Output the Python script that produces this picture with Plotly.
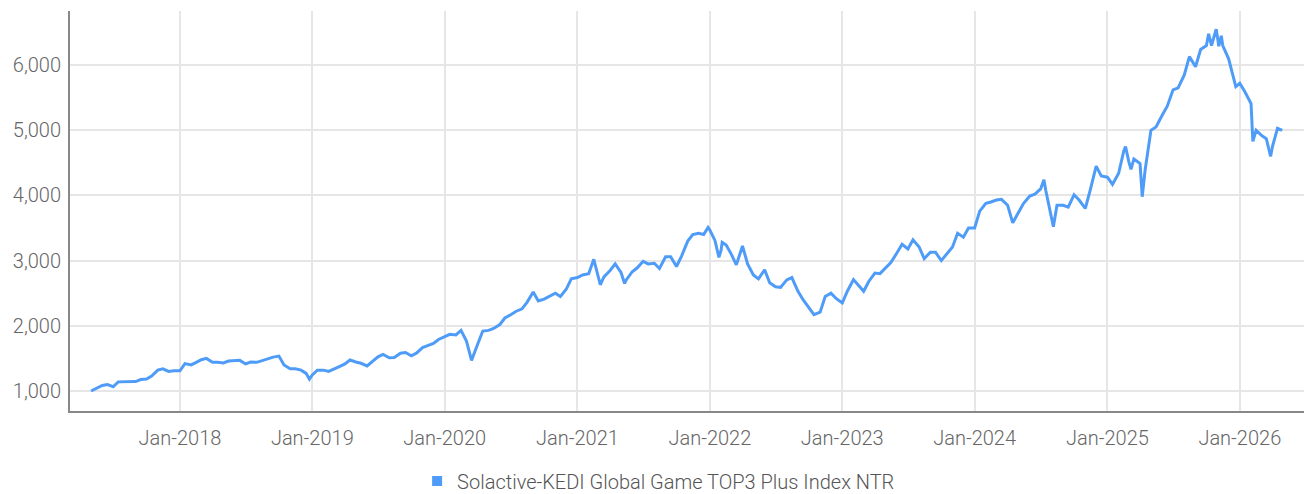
import pandas as pd
import plotly.graph_objects as go

# Semi-monthly readings (1st and 15th of each month), May 2017 .. Apr 2026
v2017 = [1000, 1040, 1085, 1100, 1065, 1140, 1140, 1135, 1145, 1175, 1185, 1230, 1320, 1340, 1300, 1310]
v2018 = [1310, 1420, 1400, 1440, 1480, 1500, 1440, 1440, 1430, 1460, 1470, 1470,
         1415, 1445, 1440, 1465, 1490, 1520, 1535, 1400, 1340, 1340, 1320, 1270]
v2019 = [1245, 1320, 1320, 1300, 1340, 1370, 1415, 1475, 1445, 1425, 1385, 1450,
         1525, 1560, 1510, 1515, 1580, 1590, 1540, 1580, 1665, 1695, 1730, 1790]
v2020 = [1830, 1870, 1860, 1930, 1765, 1470, 1720, 1920, 1930, 1960, 2020, 2120,
         2170, 2220, 2260, 2360, 2520, 2380, 2410, 2450, 2500, 2450, 2560, 2720]
v2021 = [2740, 2780, 2800, 3020, 2700, 2750, 2850, 2950, 2820, 2700, 2830, 2890,
         2990, 2950, 2960, 2880, 3060, 3060, 2910, 3070, 3300, 3400, 3420, 3400]
v2022 = [3470, 3310, 3160, 3240, 3100, 2935, 3225, 2950, 2780, 2720, 2860, 2660,
         2600, 2590, 2705, 2740, 2530, 2400, 2280, 2170, 2210, 2450, 2500, 2420]
v2023 = [2350, 2530, 2710, 2620, 2530, 2680, 2810, 2800, 2890, 2970, 3120, 3250,
         3180, 3320, 3210, 3030, 3130, 3130, 3000, 3100, 3210, 3420, 3360, 3500]
v2024 = [3500, 3760, 3880, 3900, 3930, 3940, 3850, 3580, 3740, 3880, 3990, 4020,
         4100, 4080, 3620, 3850, 3850, 3820, 4010, 3930, 3800, 4090, 4450, 4300]
v2025 = [4280, 4170, 4340, 4680, 4520, 4560, 4490, 4390, 5000, 5050, 5230, 5370,
         5620, 5650, 5850, 6130, 5975, 6240, 6300, 6300, 6410, 6300, 6100, 5820]
v2026 = [5720, 5590, 5410, 5000, 4925, 4870, 4750, 5030]

# Additional readings at visible turning points
extra_dates = ["2018-12-24", "2021-03-05", "2021-05-11", "2021-12-27", "2022-01-26",
               "2022-02-04", "2024-07-10", "2024-08-05", "2025-02-20", "2025-03-07",
               "2025-04-07", "2025-10-07", "2025-10-28", "2025-11-04", "2025-11-11",
               "2025-12-21", "2026-02-06", "2026-03-27", "2026-04-28"]
extra_values = [1180, 2630, 2650, 3510, 3050,
                3280, 4240, 3520, 4750, 4400,
                3980, 6480, 6550, 6290, 6450,
                5670, 4830, 4600, 5000]

series_name = "Solactive-KEDI Global Game TOP3 Plus Index NTR"
y_ticks = [1000, 2000, 3000, 4000, 5000, 6000]

values = v2017 + v2018 + v2019 + v2020 + v2021 + v2022 + v2023 + v2024 + v2025 + v2026
dates = pd.date_range("2017-05-01", periods=len(values), freq="SMS")

df = pd.concat([
    pd.DataFrame({"date": dates, "value": values}),
    pd.DataFrame({"date": pd.to_datetime(extra_dates), "value": extra_values}),
]).sort_values("date")

LINE = "#4f9cf8"
TXT = "#666666"
font_family = "Roboto"

fig = go.Figure()
fig.add_trace(go.Scatter(x=df["date"], y=df["value"], mode="lines",
                         line=dict(color=LINE, width=3), showlegend=False,
                         name=series_name))
fig.add_trace(go.Scatter(x=[None], y=[None], mode="markers",
                         marker=dict(symbol="square", size=10, color=LINE),
                         name=series_name, showlegend=True))

fig.update_layout(
    width=1304, height=494,
    margin=dict(l=70, r=0, t=11, b=83, autoexpand=False),
    paper_bgcolor="white", plot_bgcolor="white",
    font=dict(family=font_family, size=20, color=TXT, weight=300),
    legend=dict(orientation="h", x=0.477, xanchor="center",
                yref="container", y=(494 - 481) / 494, yanchor="middle",
                font=dict(size=20, color="#555555", weight=300),
                itemwidth=30, tracegroupgap=0),
    showlegend=True,
)
fig.update_xaxes(
    type="date", range=["2017-03-04", "2026-06-27"],
    tick0="2018-01-01", dtick="M12", tickformat="%b-%Y",
    showgrid=True, gridcolor="#e6e6e6", gridwidth=2,
    showline=True, linecolor="#888888", linewidth=2,
    ticks="outside", ticklen=8, tickcolor="rgba(0,0,0,0)",
    tickfont=dict(size=20, color=TXT), zeroline=False,
)
fig.update_yaxes(
    range=[693, 6830], tickvals=y_ticks, tickformat=",",
    showgrid=True, gridcolor="#e6e6e6", gridwidth=2,
    showline=True, linecolor="#888888", linewidth=2,
    ticks="outside", ticklen=3, tickcolor="rgba(0,0,0,0)",
    tickfont=dict(size=20, color=TXT), zeroline=False,
)

fig.write_html("out.html", config={"displayModeBar": False},
               post_script="document.body.style.margin='0';")
